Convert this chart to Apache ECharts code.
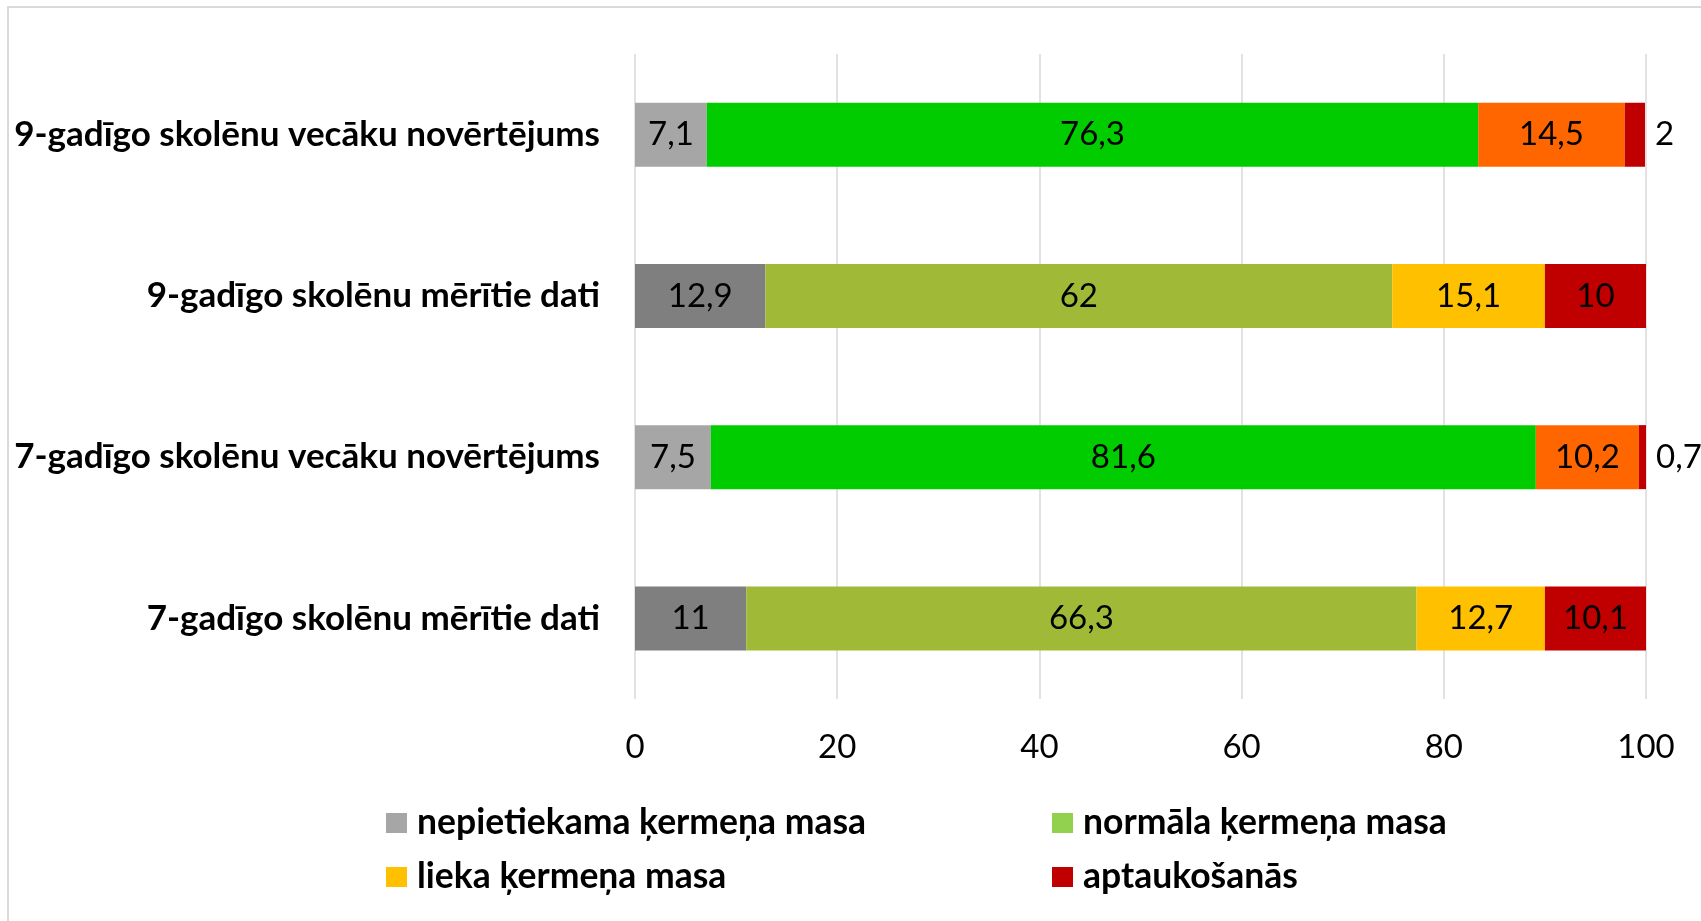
<!DOCTYPE html>
<html>
<head>
<meta charset="utf-8">
<title>Ķermeņa masa</title>
<script src="https://cdn.jsdelivr.net/npm/echarts@6/dist/echarts.min.js"></script>
<style>
  html, body { margin: 0; padding: 0; background: #fff; }
  #main { width: 1701px; height: 921px; }
</style>
</head>
<body>
<div id="main"></div>
<script>
// kategorijas (no apakšas uz augšu, kā ECharts zīmē y asi)
var categories = [
  '7-gadīgo skolēnu mērītie dati',
  '7-gadīgo skolēnu vecāku novērtējums',
  '9-gadīgo skolēnu mērītie dati',
  '9-gadīgo skolēnu vecāku novērtējums'
];
var seriesNames = [
  'nepietiekama ķermeņa masa',
  'normāla ķermeņa masa',
  'lieka ķermeņa masa',
  'aptaukošanās'
];
var nepietiekama = [11, 7.5, 12.9, 7.1];
var normala = [66.3, 81.6, 62, 76.3];
var lieka = [12.7, 10.2, 15.1, 14.5];
var aptaukosanas = [10.1, 0.7, 10, 2];
var xTicks = [0, 20, 40, 60, 80, 100];

// krāsas: leģendai un katram stabiņam atsevišķi
var legendColors = ['#a6a6a6', '#92d050', '#ffc000', '#c00000'];
var barColors = [
  ['#7f7f7f', '#a6a6a6', '#7f7f7f', '#a6a6a6'],
  ['#a0ba38', '#00cc00', '#a0ba38', '#00cc00'],
  ['#ffc000', '#ff6600', '#ffc000', '#ff6600'],
  ['#c00000', '#c00000', '#c00000', '#c00000']
];

var FONT = 'Lato';
var chart = echarts.init(document.getElementById('main'));

function fmt(v) {
  return String(v).replace('.', ',');
}

function makeSeries(idx, values) {
  return {
    name: seriesNames[idx],
    type: 'bar',
    stack: 'kopa',
    barWidth: 64,
    itemStyle: { color: legendColors[idx] },
    label: {
      show: true,
      position: 'inside',
      color: '#000',
      fontFamily: FONT,
      fontSize: 33,
      formatter: function (p) { return fmt(p.value); }
    },
    data: values.map(function (v, i) {
      var item = { value: v, itemStyle: { color: barColors[idx][i] } };
      if (v < 3) {
        // mazās vērtības raksta aiz stabiņa
        item.label = { position: 'right', distance: 10 };
      }
      return item;
    })
  };
}

var legendText = { fontFamily: FONT, fontSize: 35.5, fontWeight: 'bold', color: '#000', lineHeight: 36, padding: [0, 0, 0, 5] };

var option = {
  animation: false,
  backgroundColor: '#fff',
  textStyle: { fontFamily: FONT },
  graphic: [{
    type: 'rect',
    shape: { x: 8, y: 7, width: 2000, height: 2000 },
    style: { fill: 'none', stroke: '#d9d9d9', lineWidth: 2 },
    silent: true
  }],
  legend: [
    {
      data: [seriesNames[0], seriesNames[2]],
      orient: 'vertical',
      left: 386,
      top: 805,
      padding: 0,
      itemWidth: 21,
      itemHeight: 20,
      itemGap: 18,
      icon: 'rect',
      textStyle: legendText
    },
    {
      data: [seriesNames[1], seriesNames[3]],
      orient: 'vertical',
      left: 1052,
      top: 805,
      padding: 0,
      itemWidth: 21,
      itemHeight: 20,
      itemGap: 18,
      icon: 'rect',
      textStyle: legendText
    }
  ],
  grid: {
    left: 635,
    right: 55,
    top: 54,
    bottom: 222,
    containLabel: false
  },
  xAxis: {
    type: 'value',
    min: xTicks[0],
    max: xTicks[xTicks.length - 1],
    interval: xTicks[1] - xTicks[0],
    axisLine: { show: false },
    axisTick: { show: false },
    splitLine: { show: true, lineStyle: { color: '#d9d9d9', width: 1.5 } },
    axisLabel: {
      color: '#000',
      fontFamily: FONT,
      fontSize: 33,
      margin: 32
    }
  },
  yAxis: {
    type: 'category',
    data: categories,
    axisLine: { show: false },
    axisTick: { show: false },
    axisLabel: {
      color: '#000',
      fontFamily: FONT,
      fontSize: 35,
      fontWeight: 'bold',
      margin: 35
    }
  },
  series: [
    makeSeries(0, nepietiekama),
    makeSeries(1, normala),
    makeSeries(2, lieka),
    makeSeries(3, aptaukosanas)
  ]
};
chart.setOption(option);
</script>
</body>
</html>
